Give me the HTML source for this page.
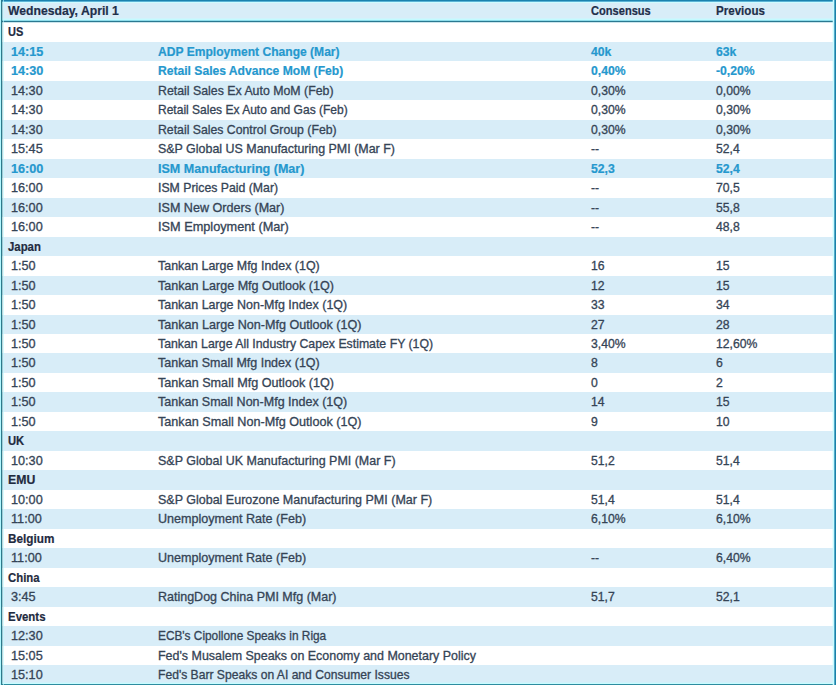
<!DOCTYPE html>
<html><head><meta charset="utf-8"><style>
html,body{margin:0;padding:0;width:836px;height:685px;overflow:hidden;background:#fff;}
body{position:relative;font-family:"Liberation Sans",sans-serif;}
#w{position:absolute;left:0;top:0;width:836px;height:685px;}
.r{position:absolute;left:0;width:836px;}
.b{background:#D8EDF8;}
.t{position:absolute;white-space:nowrap;line-height:1;}
.n{font-size:12.2px;color:#354456;letter-spacing:0px;-webkit-text-stroke:0.3px #354456;}
.hl{font-size:12.2px;color:#2598CE;font-weight:bold;letter-spacing:0px;-webkit-text-stroke:0.2px #2598CE;}
.sec{font-size:12.5px;color:#1F2B3F;font-weight:bold;letter-spacing:0px;-webkit-text-stroke:0.2px #1F2B3F;}
.hd{font-size:12.2px;color:#1F2F4A;font-weight:bold;letter-spacing:0px;-webkit-text-stroke:0.2px #1F2F4A;}
.bd{position:absolute;background:#1B84AE;}
</style></head><body><div id="w">

<div class="r b" style="top:0;height:21px"></div>
<div class="t hd" style="left:8px;top:4.5px">Wednesday, April 1</div>
<div class="t hd" style="left:591px;top:4.5px;transform:scaleX(0.91);transform-origin:0 0">Consensus</div>
<div class="t hd" style="left:716px;top:4.5px;transform:scaleX(0.95);transform-origin:0 0">Previous</div>
<div class="t sec" style="left:8px;top:25.50px;transform:scaleX(0.88);transform-origin:0 0">US</div>
<div class="r b" style="top:42px;height:19px"></div>
<div class="t hl" style="left:11px;top:45.50px;transform:scaleX(1.04);transform-origin:0 0">14:15</div>
<div class="t hl c2" style="left:158px;top:45.50px;transform:scaleX(0.9907);transform-origin:0 0">ADP Employment Change (Mar)</div>
<div class="t hl" style="left:591px;top:45.50px">40k</div>
<div class="t hl" style="left:716px;top:45.50px">63k</div>
<div class="t hl" style="left:11px;top:64.50px;transform:scaleX(1.04);transform-origin:0 0">14:30</div>
<div class="t hl c2" style="left:158px;top:64.50px;transform:scaleX(0.9932);transform-origin:0 0">Retail Sales Advance MoM (Feb)</div>
<div class="t hl" style="left:591px;top:64.50px">0,40%</div>
<div class="t hl" style="left:716px;top:64.50px">-0,20%</div>
<div class="r b" style="top:81px;height:19px"></div>
<div class="t n" style="left:11px;top:84.50px;transform:scaleX(1.04);transform-origin:0 0">14:30</div>
<div class="t n c2" style="left:158px;top:84.50px;transform:scaleX(1.0121);transform-origin:0 0">Retail Sales Ex Auto MoM (Feb)</div>
<div class="t n" style="left:591px;top:84.50px">0,30%</div>
<div class="t n" style="left:716px;top:84.50px">0,00%</div>
<div class="t n" style="left:11px;top:103.50px;transform:scaleX(1.04);transform-origin:0 0">14:30</div>
<div class="t n c2" style="left:158px;top:103.50px;transform:scaleX(0.9860);transform-origin:0 0">Retail Sales Ex Auto and Gas (Feb)</div>
<div class="t n" style="left:591px;top:103.50px">0,30%</div>
<div class="t n" style="left:716px;top:103.50px">0,30%</div>
<div class="r b" style="top:120px;height:19px"></div>
<div class="t n" style="left:11px;top:123.50px;transform:scaleX(1.04);transform-origin:0 0">14:30</div>
<div class="t n c2" style="left:158px;top:123.50px;transform:scaleX(1.0064);transform-origin:0 0">Retail Sales Control Group (Feb)</div>
<div class="t n" style="left:591px;top:123.50px">0,30%</div>
<div class="t n" style="left:716px;top:123.50px">0,30%</div>
<div class="t n" style="left:11px;top:142.50px;transform:scaleX(1.04);transform-origin:0 0">15:45</div>
<div class="t n c2" style="left:158px;top:142.50px;transform:scaleX(1.0207);transform-origin:0 0">S&amp;P Global US Manufacturing PMI (Mar F)</div>
<div class="t n" style="left:591px;top:142.50px">--</div>
<div class="t n" style="left:716px;top:142.50px">52,4</div>
<div class="r b" style="top:159px;height:19px"></div>
<div class="t hl" style="left:11px;top:162.50px;transform:scaleX(1.04);transform-origin:0 0">16:00</div>
<div class="t hl c2" style="left:158px;top:162.50px;transform:scaleX(1.0296);transform-origin:0 0">ISM Manufacturing (Mar)</div>
<div class="t hl" style="left:591px;top:162.50px">52,3</div>
<div class="t hl" style="left:716px;top:162.50px">52,4</div>
<div class="t n" style="left:11px;top:181.50px;transform:scaleX(1.04);transform-origin:0 0">16:00</div>
<div class="t n c2" style="left:158px;top:181.50px;transform:scaleX(1.0077);transform-origin:0 0">ISM Prices Paid (Mar)</div>
<div class="t n" style="left:591px;top:181.50px">--</div>
<div class="t n" style="left:716px;top:181.50px">70,5</div>
<div class="r b" style="top:198px;height:19px"></div>
<div class="t n" style="left:11px;top:201.50px;transform:scaleX(1.04);transform-origin:0 0">16:00</div>
<div class="t n c2" style="left:158px;top:201.50px;transform:scaleX(1.0321);transform-origin:0 0">ISM New Orders (Mar)</div>
<div class="t n" style="left:591px;top:201.50px">--</div>
<div class="t n" style="left:716px;top:201.50px">55,8</div>
<div class="t n" style="left:11px;top:220.50px;transform:scaleX(1.04);transform-origin:0 0">16:00</div>
<div class="t n c2" style="left:158px;top:220.50px;transform:scaleX(1.0441);transform-origin:0 0">ISM Employment (Mar)</div>
<div class="t n" style="left:591px;top:220.50px">--</div>
<div class="t n" style="left:716px;top:220.50px">48,8</div>
<div class="r b" style="top:237px;height:19px"></div>
<div class="t sec" style="left:8px;top:240.50px;transform:scaleX(0.91);transform-origin:0 0">Japan</div>
<div class="t n" style="left:11px;top:259.50px;transform:scaleX(1.04);transform-origin:0 0">1:50</div>
<div class="t n c2" style="left:158px;top:259.50px;transform:scaleX(1.0200);transform-origin:0 0">Tankan Large Mfg Index (1Q)</div>
<div class="t n" style="left:591px;top:259.50px">16</div>
<div class="t n" style="left:716px;top:259.50px">15</div>
<div class="r b" style="top:276px;height:19px"></div>
<div class="t n" style="left:11px;top:279.50px;transform:scaleX(1.04);transform-origin:0 0">1:50</div>
<div class="t n c2" style="left:158px;top:279.50px;transform:scaleX(1.0309);transform-origin:0 0">Tankan Large Mfg Outlook (1Q)</div>
<div class="t n" style="left:591px;top:279.50px">12</div>
<div class="t n" style="left:716px;top:279.50px">15</div>
<div class="t n" style="left:11px;top:298.50px;transform:scaleX(1.04);transform-origin:0 0">1:50</div>
<div class="t n c2" style="left:158px;top:298.50px;transform:scaleX(1.0230);transform-origin:0 0">Tankan Large Non-Mfg Index (1Q)</div>
<div class="t n" style="left:591px;top:298.50px">33</div>
<div class="t n" style="left:716px;top:298.50px">34</div>
<div class="r b" style="top:315px;height:19px"></div>
<div class="t n" style="left:11px;top:318.50px;transform:scaleX(1.04);transform-origin:0 0">1:50</div>
<div class="t n c2" style="left:158px;top:318.50px;transform:scaleX(1.0323);transform-origin:0 0">Tankan Large Non-Mfg Outlook (1Q)</div>
<div class="t n" style="left:591px;top:318.50px">27</div>
<div class="t n" style="left:716px;top:318.50px">28</div>
<div class="t n" style="left:11px;top:337.50px;transform:scaleX(1.04);transform-origin:0 0">1:50</div>
<div class="t n c2" style="left:158px;top:337.50px;transform:scaleX(1.0086);transform-origin:0 0">Tankan Large All Industry Capex Estimate FY (1Q)</div>
<div class="t n" style="left:591px;top:337.50px">3,40%</div>
<div class="t n" style="left:716px;top:337.50px">12,60%</div>
<div class="r b" style="top:353px;height:20px"></div>
<div class="t n" style="left:11px;top:356.50px;transform:scaleX(1.04);transform-origin:0 0">1:50</div>
<div class="t n c2" style="left:158px;top:356.50px;transform:scaleX(1.0245);transform-origin:0 0">Tankan Small Mfg Index (1Q)</div>
<div class="t n" style="left:591px;top:356.50px">8</div>
<div class="t n" style="left:716px;top:356.50px">6</div>
<div class="t n" style="left:11px;top:376.50px;transform:scaleX(1.04);transform-origin:0 0">1:50</div>
<div class="t n c2" style="left:158px;top:376.50px;transform:scaleX(1.0352);transform-origin:0 0">Tankan Small Mfg Outlook (1Q)</div>
<div class="t n" style="left:591px;top:376.50px">0</div>
<div class="t n" style="left:716px;top:376.50px">2</div>
<div class="r b" style="top:392px;height:20px"></div>
<div class="t n" style="left:11px;top:395.50px;transform:scaleX(1.04);transform-origin:0 0">1:50</div>
<div class="t n c2" style="left:158px;top:395.50px;transform:scaleX(1.0269);transform-origin:0 0">Tankan Small Non-Mfg Index (1Q)</div>
<div class="t n" style="left:591px;top:395.50px">14</div>
<div class="t n" style="left:716px;top:395.50px">15</div>
<div class="t n" style="left:11px;top:415.50px;transform:scaleX(1.04);transform-origin:0 0">1:50</div>
<div class="t n c2" style="left:158px;top:415.50px;transform:scaleX(1.0360);transform-origin:0 0">Tankan Small Non-Mfg Outlook (1Q)</div>
<div class="t n" style="left:591px;top:415.50px">9</div>
<div class="t n" style="left:716px;top:415.50px">10</div>
<div class="r b" style="top:431px;height:20px"></div>
<div class="t sec" style="left:8px;top:434.50px;transform:scaleX(0.9);transform-origin:0 0">UK</div>
<div class="t n" style="left:11px;top:454.50px;transform:scaleX(1.04);transform-origin:0 0">10:30</div>
<div class="t n c2" style="left:158px;top:454.50px;transform:scaleX(1.0237);transform-origin:0 0">S&amp;P Global UK Manufacturing PMI (Mar F)</div>
<div class="t n" style="left:591px;top:454.50px">51,2</div>
<div class="t n" style="left:716px;top:454.50px">51,4</div>
<div class="r b" style="top:470px;height:20px"></div>
<div class="t sec" style="left:8px;top:473.50px;transform:scaleX(0.98);transform-origin:0 0">EMU</div>
<div class="t n" style="left:11px;top:493.50px;transform:scaleX(1.04);transform-origin:0 0">10:00</div>
<div class="t n c2" style="left:158px;top:493.50px;transform:scaleX(1.0256);transform-origin:0 0">S&amp;P Global Eurozone Manufacturing PMI (Mar F)</div>
<div class="t n" style="left:591px;top:493.50px">51,4</div>
<div class="t n" style="left:716px;top:493.50px">51,4</div>
<div class="r b" style="top:509px;height:20px"></div>
<div class="t n" style="left:11px;top:512.50px;transform:scaleX(1.04);transform-origin:0 0">11:00</div>
<div class="t n c2" style="left:158px;top:512.50px;transform:scaleX(1.0313);transform-origin:0 0">Unemployment Rate (Feb)</div>
<div class="t n" style="left:591px;top:512.50px">6,10%</div>
<div class="t n" style="left:716px;top:512.50px">6,10%</div>
<div class="t sec" style="left:8px;top:532.50px;transform:scaleX(0.94);transform-origin:0 0">Belgium</div>
<div class="r b" style="top:548px;height:20px"></div>
<div class="t n" style="left:11px;top:551.50px;transform:scaleX(1.04);transform-origin:0 0">11:00</div>
<div class="t n c2" style="left:158px;top:551.50px;transform:scaleX(1.0313);transform-origin:0 0">Unemployment Rate (Feb)</div>
<div class="t n" style="left:591px;top:551.50px">--</div>
<div class="t n" style="left:716px;top:551.50px">6,40%</div>
<div class="t sec" style="left:8px;top:571.50px;transform:scaleX(0.91);transform-origin:0 0">China</div>
<div class="r b" style="top:587px;height:20px"></div>
<div class="t n" style="left:11px;top:590.50px;transform:scaleX(1.04);transform-origin:0 0">3:45</div>
<div class="t n c2" style="left:158px;top:590.50px;transform:scaleX(1.0254);transform-origin:0 0">RatingDog China PMI Mfg (Mar)</div>
<div class="t n" style="left:591px;top:590.50px">51,7</div>
<div class="t n" style="left:716px;top:590.50px">52,1</div>
<div class="t sec" style="left:8px;top:610.50px;transform:scaleX(0.915);transform-origin:0 0">Events</div>
<div class="r b" style="top:626px;height:20px"></div>
<div class="t n" style="left:11px;top:629.50px;transform:scaleX(1.04);transform-origin:0 0">12:30</div>
<div class="t n c2" style="left:158px;top:629.50px;transform:scaleX(0.9720);transform-origin:0 0">ECB's Cipollone Speaks in Riga</div>
<div class="t n" style="left:11px;top:649.50px;transform:scaleX(1.04);transform-origin:0 0">15:05</div>
<div class="t n c2" style="left:158px;top:649.50px;transform:scaleX(1.0217);transform-origin:0 0">Fed's Musalem Speaks on Economy and Monetary Policy</div>
<div class="r b" style="top:665px;height:19px"></div>
<div class="t n" style="left:11px;top:668.50px;transform:scaleX(1.04);transform-origin:0 0">15:10</div>
<div class="t n c2" style="left:158px;top:668.50px;transform:scaleX(0.9941);transform-origin:0 0">Fed's Barr Speaks on AI and Consumer Issues</div>
<div class="bd" style="left:0px;top:18px;width:836px;height:1px;background:rgba(200,250,255,0.5)"></div>
<div class="bd" style="left:0px;top:19px;width:836px;height:1px;background:#C4FAFF"></div>
<div class="bd" style="left:0px;top:20px;width:836px;height:1px;background:#8CDCEA"></div>
<div class="bd" style="left:0px;top:21px;width:836px;height:1px;background:#2A7890"></div>
<div class="bd" style="left:0px;top:22px;width:836px;height:1px;background:#CBE5EC"></div>
<div class="bd" style="left:0px;top:0px;width:836px;height:1px;background:#1A82AE"></div>
<div class="bd" style="left:0px;top:1px;width:836px;height:1px;background:#5BB3D6"></div>
<div class="bd" style="left:0px;top:2px;width:836px;height:1px;background:#CFFCFF"></div>
<div class="bd" style="left:0px;top:682px;width:836px;height:1px;background:rgba(200,250,255,0.4)"></div>
<div class="bd" style="left:0px;top:683px;width:836px;height:1px;background:#C8FCFF"></div>
<div class="bd" style="left:0px;top:684px;width:836px;height:1px;background:#2E8CA0"></div>
<div class="bd" style="left:832px;top:0px;width:1px;height:685px;background:rgba(200,252,255,0.3)"></div>
<div class="bd" style="left:833px;top:0px;width:1px;height:685px;background:#C8FCFF"></div>
<div class="bd" style="left:834px;top:0px;width:1px;height:685px;background:#55AACA"></div>
<div class="bd" style="left:835px;top:0px;width:1px;height:685px;background:#1A82A8"></div>
<div class="bd" style="left:0px;top:0px;width:1px;height:685px;background:#B2F6FF"></div>
<div class="bd" style="left:1px;top:0px;width:1px;height:685px;background:#2D7A8A"></div>
<div class="bd" style="left:2px;top:0px;width:1px;height:685px;background:rgba(45,122,138,0.3)"></div>
<div class="bd" style="left:3px;top:0px;width:1px;height:685px;background:rgba(190,250,255,0.6)"></div>
</div></body></html>
